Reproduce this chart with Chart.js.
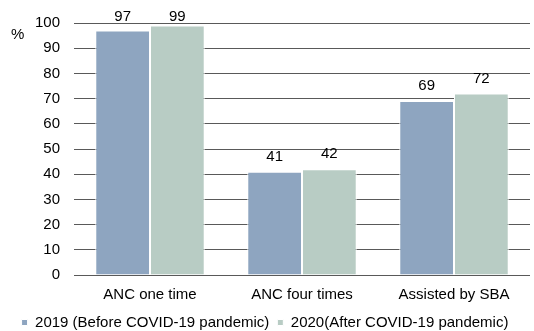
<!DOCTYPE html>
<html>
<head>
<meta charset="utf-8">
<script src="https://cdn.jsdelivr.net/npm/chart.js@4/dist/chart.umd.min.js"></script>
<style>
  html, body { margin: 0; padding: 0; background: #fff; }
  #wrap { width: 534px; height: 331px; position: relative; }
</style>
</head>
<body>
<div id="wrap"><canvas id="c"></canvas></div>
<script>
const categories = ['ANC one time', 'ANC four times', 'Assisted by SBA'];
const values2019 = [97, 41, 69];
const values2020 = [99, 42, 72];
const seriesNames = ['2019 (Before COVID-19 pandemic)', '2020(After COVID-19 pandemic)'];
const yTicks = [0, 10, 20, 30, 40, 50, 60, 70, 80, 90, 100];

const FONT = 'Liberation Sans, Arial, sans-serif';

// Draws each bar's value above it (kept from rising past the top of the plot),
// and the "%" unit beside the y axis
const valueLabels = {
  id: 'valueLabels',
  afterDatasetsDraw(chart) {
    const ctx = chart.ctx;
    const minY = chart.chartArea.top - 6;
    ctx.save();
    ctx.fillStyle = '#000';
    ctx.font = '15px ' + FONT;
    ctx.textAlign = 'center';
    ctx.textBaseline = 'middle';
    chart.data.datasets.forEach((ds, i) => {
      chart.getDatasetMeta(i).data.forEach((bar, j) => {
        ctx.fillText(String(ds.data[j]), bar.x, Math.max(bar.y - 15, minY));
      });
    });
    ctx.textAlign = 'left';
    ctx.fillText('%', 11, 35);
    ctx.restore();
  }
};

new Chart(document.getElementById('c'), {
  type: 'bar',
  data: {
    labels: categories,
    datasets: [
      { label: seriesNames[0], data: values2019, backgroundColor: '#8EA5C0', borderColor: '#ffffff', borderWidth: 1 },
      { label: seriesNames[1], data: values2020, backgroundColor: '#B8CCC4', borderColor: '#ffffff', borderWidth: 1 }
    ]
  },
  options: {
    responsive: true,
    maintainAspectRatio: false,
    animation: false,
    layout: { padding: { top: 23, right: 4, left: 0, bottom: -9 } },
    datasets: { bar: { categoryPercentage: 0.72, barPercentage: 1.0 } },
    scales: {
      x: {
        grid: { display: false },
        border: { display: false },
        ticks: { color: '#000', font: { family: FONT, size: 15 }, padding: 3 }
      },
      y: {
        min: 0, max: 100,
        afterBuildTicks(scale) { scale.ticks = yTicks.map(v => ({ value: v })); },
        afterFit(scale) { scale.width = 74; },
        grid: { color: '#595959', lineWidth: 1, drawTicks: false },
        border: { display: false },
        ticks: { color: '#000', font: { family: FONT, size: 15 }, padding: 14 }
      }
    },
    plugins: {
      legend: {
        position: 'bottom',
        labels: {
          color: '#000',
          font: { family: FONT, size: 15 },
          boxWidth: 6, boxHeight: 6,
          padding: 8
        }
      },
      tooltip: { enabled: false }
    }
  },
  plugins: [valueLabels]
});
</script>
</body>
</html>
